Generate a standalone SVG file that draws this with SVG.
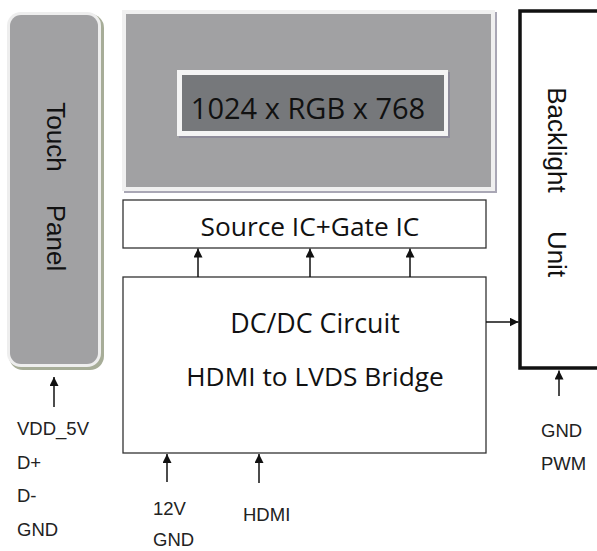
<svg xmlns="http://www.w3.org/2000/svg" width="597" height="551" viewBox="0 0 597 551">
<style>
.box{fill:#fff;stroke:#333;stroke-width:1.3}
.lbl{font-family:"Liberation Sans",Arial,sans-serif;font-size:18.5px;fill:#222}
.big{font-family:"Open Sans","Noto Sans",sans-serif;fill:#111}
.vert{font-family:"Liberation Sans",Arial,sans-serif;font-size:26px;fill:#111;text-anchor:middle}
.conn{stroke:#111;stroke-width:1.5;fill:none;marker-end:url(#ah)}
</style>
<defs>
<marker id="ah" viewBox="0 0 10 10" refX="10" refY="5" markerWidth="9" markerHeight="9" markerUnits="userSpaceOnUse" orient="auto">
<path d="M0,0 L10,5 L0,10 z" fill="#111"/>
</marker>
</defs>
<rect width="597" height="551" fill="#fff"/>
<g id="touch-panel">
<rect x="9" y="14" width="95" height="356" rx="14" fill="#a7ad98"/>
<rect x="7" y="12" width="94" height="355" rx="14" fill="#eeeeee"/>
<rect x="10" y="15" width="88" height="349" rx="11" fill="#a1a1a3"/>
<text class="vert" transform="translate(47,137) rotate(90)">Touch</text>
<text class="vert" transform="translate(47,238) rotate(90)">Panel</text>
</g>
<g id="display">
<rect x="124" y="12" width="373" height="181" fill="#a9a7b5"/>
<rect x="122" y="10" width="373" height="181" fill="#f0f0f0"/>
<rect x="126" y="14" width="365" height="173" fill="#a1a1a3"/>
<rect x="179" y="72" width="271" height="66" fill="#8e8c9a"/>
<rect x="177" y="70" width="271" height="66" fill="#f4f4f4"/>
<rect x="182" y="75" width="262" height="56" fill="#76787b"/>
<text class="big" x="308" y="119" font-size="29" text-anchor="middle">1024 x RGB x 768</text>
</g>
<g id="source-ic">
<rect class="box" x="123" y="200" width="363" height="48"/>
<text class="big" x="310" y="236" font-size="26.3" text-anchor="middle">Source IC+Gate IC</text>
</g>
<g id="dcdc">
<rect class="box" x="123" y="277" width="363" height="176"/>
<text class="big" x="315" y="333" font-size="26.8" text-anchor="middle">DC/DC Circuit</text>
<text class="big" x="315" y="386" font-size="26.3" text-anchor="middle">HDMI to LVDS Bridge</text>
</g>
<g id="backlight">
<rect x="520" y="11" width="90" height="357" fill="#fff" stroke="#111" stroke-width="3.5"/>
<text class="vert" transform="translate(548,140) rotate(90)">Backlight</text>
<text class="vert" transform="translate(548,254) rotate(90)">Unit</text>
</g>
<g id="touch-labels">
<text class="lbl" x="17" y="435">VDD_5V</text>
<text class="lbl" x="17" y="469">D+</text>
<text class="lbl" x="17" y="502">D-</text>
<text class="lbl" x="17" y="536">GND</text>
</g>
<g id="power-labels">
<text class="lbl" x="153" y="515">12V</text>
<text class="lbl" x="153" y="546">GND</text>
</g>
<g id="hdmi-label">
<text class="lbl" x="243" y="521">HDMI</text>
</g>
<g id="backlight-labels">
<text class="lbl" x="541" y="437">GND</text>
<text class="lbl" x="541" y="470">PWM</text>
</g>
<g id="connectors">
<line class="conn" x1="198" y1="277" x2="198" y2="248.5"/>
<line class="conn" x1="310" y1="277" x2="310" y2="248.5"/>
<line class="conn" x1="410" y1="277" x2="410" y2="248.5"/>
<line class="conn" x1="486" y1="322" x2="518.5" y2="322"/>
<line class="conn" x1="54" y1="407" x2="54" y2="377"/>
<line class="conn" x1="167" y1="482" x2="167" y2="454"/>
<line class="conn" x1="259" y1="483" x2="259" y2="454"/>
<line class="conn" x1="559" y1="396" x2="559" y2="370.5"/>
</g>
</svg>
